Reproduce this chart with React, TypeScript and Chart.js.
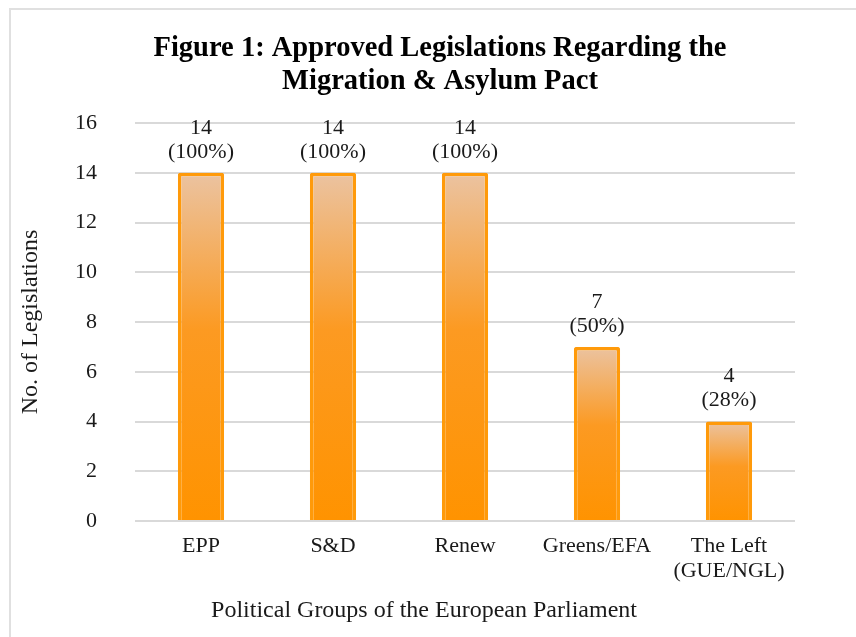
import React, { useEffect, useRef } from "react";
import { Chart, registerables } from "chart.js";

Chart.register(...registerables);

const CATEGORIES: (string | string[])[] = ["EPP", "S&D", "Renew", "Greens/EFA", ["The Left", "(GUE/NGL)"]];
const VALUES: number[] = [14, 14, 14, 7, 4];
const PERCENT_LABELS: string[] = ["(100%)", "(100%)", "(100%)", "(50%)", "(28%)"];
const Y_TICKS_MAX = 16;
const Y_TICKS_STEP = 2;
const TITLE_LINES: string[] = ["Figure 1: Approved Legislations Regarding the", "Migration & Asylum Pact"];
const X_TITLE = "Political Groups of the European Parliament";
const Y_TITLE = "No. of Legislations";

const SERIF = '"Liberation Serif", "Times New Roman", serif';

const textPlugin = {
  id: "customTexts",
  afterDraw(chart: any) {
    const c: CanvasRenderingContext2D = chart.ctx;
    c.save();
    c.textAlign = "center";
    c.fillStyle = "#000";
    c.textBaseline = "alphabetic";
    c.font = `bold 28.5px ${SERIF}`;
    TITLE_LINES.forEach((t, i) => c.fillText(t, 440, 56 + i * 33));

    c.fillStyle = "#1a1a1a";
    c.textBaseline = "middle";
    c.font = `24px ${SERIF}`;
    c.fillText(X_TITLE, 424, 611);

    c.font = `22px ${SERIF}`;
    const meta = chart.getDatasetMeta(0);
    meta.data.forEach((bar: any, i: number) => {
      c.fillText(String(VALUES[i]), bar.x, bar.y - 45);
      c.fillText(PERCENT_LABELS[i], bar.x, bar.y - 21);
    });
    c.restore();
  },
};

export default function App() {
  const ref = useRef<HTMLCanvasElement | null>(null);

  useEffect(() => {
    if (!ref.current) return;
    const chart = new Chart(ref.current, {
      type: "bar",
      data: {
        labels: CATEGORIES as any,
        datasets: [
          {
            data: VALUES,
            backgroundColor: (ctx: any) => {
              const chart = ctx.chart;
              if (!chart.chartArea || ctx.type !== "data") return "#FF9500";
              const ys = chart.scales.y;
              const top = ys.getPixelForValue(ctx.raw);
              const bottom = ys.getPixelForValue(0);
              const g = chart.ctx.createLinearGradient(0, top, 0, bottom);
              g.addColorStop(0, "#EBC3A1");
              g.addColorStop(0.45, "#FC9A22");
              g.addColorStop(1, "#FF9300");
              return g;
            },
            borderColor: "#FF9A0A",
            borderWidth: 3.5,
            borderRadius: 2,
            barPercentage: 0.35,
            categoryPercentage: 1,
          },
        ],
      },
      options: {
        animation: false,
        responsive: false,
        devicePixelRatio: 1,
        layout: { padding: { left: 10, right: 61, top: 123, bottom: 46 } },
        plugins: {
          legend: { display: false },
          tooltip: { enabled: false },
          title: { display: false },
        },
        scales: {
          x: {
            grid: { display: false, drawTicks: false },
            border: { display: false },
            ticks: {
              color: "#1a1a1a",
              padding: 13,
              maxRotation: 0,
              autoSkip: false,
              font: { family: SERIF, size: 22, lineHeight: 1.14 },
            },
            afterFit: (s: any) => {
              s.height = 70;
            },
          },
          y: {
            min: 0,
            max: Y_TICKS_MAX,
            grid: { color: "#d9d9d9", lineWidth: 2, drawTicks: false },
            border: { display: false },
            ticks: {
              stepSize: Y_TICKS_STEP,
              color: "#1a1a1a",
              padding: 38,
              font: { family: SERIF, size: 22 },
            },
            title: {
              display: true,
              text: Y_TITLE,
              color: "#1a1a1a",
              font: { family: SERIF, size: 24 },
              padding: { top: 6, bottom: 0 },
            },
            afterFit: (s: any) => {
              s.width = 125;
            },
          },
        },
      },
      plugins: [textPlugin],
    });
    return () => chart.destroy();
  }, []);

  return (
    <div
      style={{
        position: "absolute",
        left: 0,
        top: 0,
        width: 856,
        height: 637,
        overflow: "hidden",
        background: "#fff",
      }}
    >
      <div
        style={{
          position: "absolute",
          left: 9,
          top: 8,
          width: 1000,
          height: 1000,
          border: "2px solid #e0e0e0",
        }}
      />
      <canvas ref={ref} width={856} height={637} style={{ position: "absolute", left: 0, top: 0 }} />
    </div>
  );
}
